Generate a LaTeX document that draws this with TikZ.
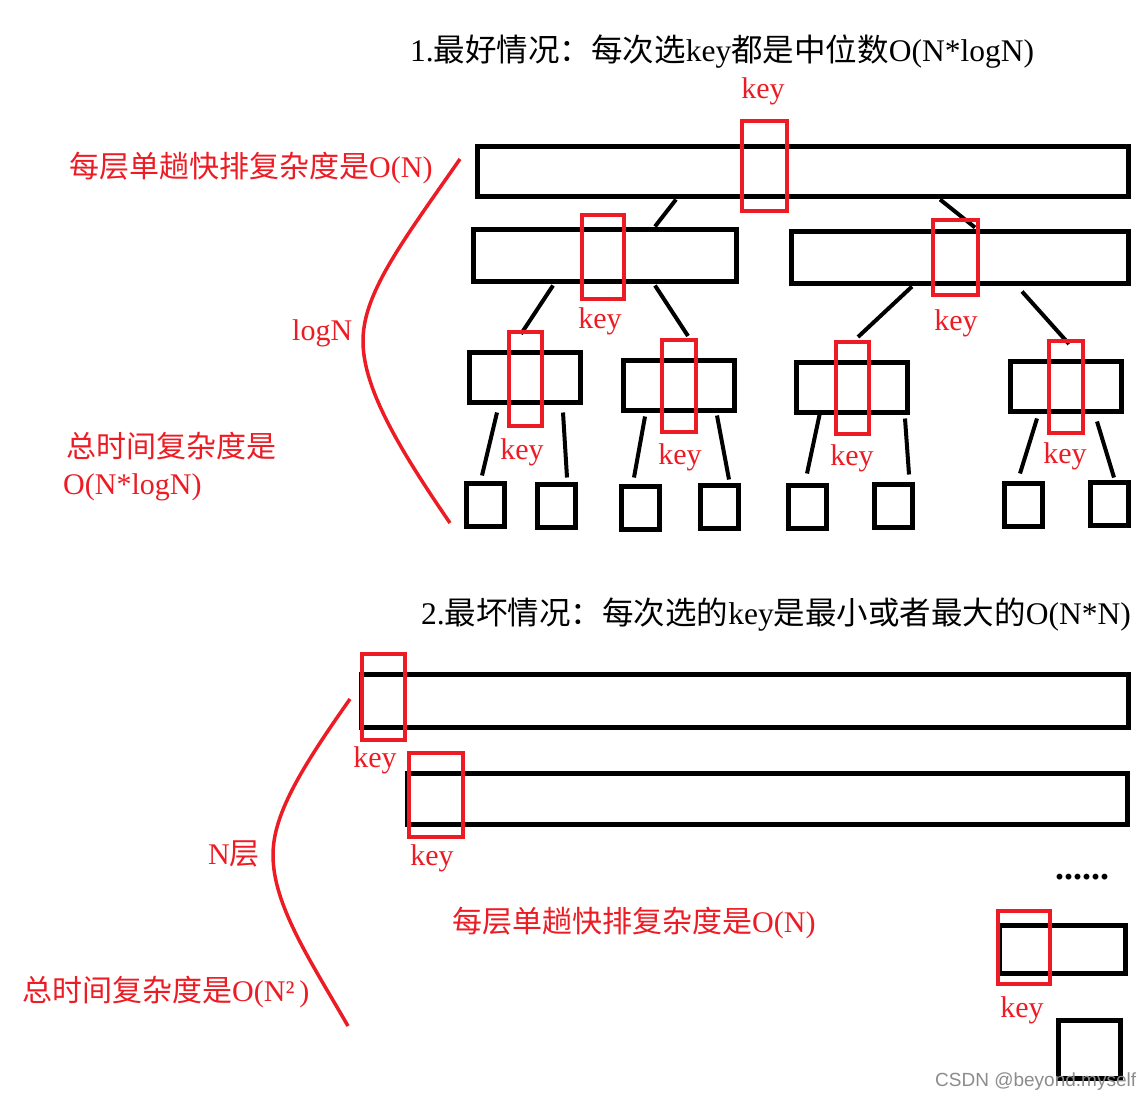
\documentclass[tikz,border=0pt]{standalone}
\usepackage{fontspec}
\setmainfont{Liberation Serif}
\newfontfamily\cjk{Noto Sans CJK SC}
\newfontfamily\wmfont{Liberation Sans}
\definecolor{pred}{RGB}{237,28,36}
\begin{document}
\begin{tikzpicture}[x=1pt,y=-1pt,
  blk/.style 2 args={draw=black,line width=5pt,inner sep=0pt,minimum width=#1,minimum height=#2},
  keyb/.style 2 args={draw=pred,line width=4pt,inner sep=0pt,minimum width=#1,minimum height=#2},
  conn/.style={draw=black,line width=4pt},
  brace/.style={draw=pred,line width=3.5pt},
  lbl/.style={text=pred,font=\fontsize{30}{36}\selectfont,inner sep=0pt},
  ttl/.style={text=black,font=\fontsize{31.5}{38}\selectfont,inner sep=0pt}]
\useasboundingbox[fill=white] (0,0) rectangle (1147,1099);

% ---------- part 1 ----------
\node[ttl,anchor=base west] (t1) at (410,62) {1.{\cjk 最好情况：每次选}key{\cjk 都是中位数}O(N*logN)};

\node[blk={651pt}{50pt}] (r0) at (802.5,172) {};
\node[blk={263pt}{51pt}] (r1L) at (604.5,255.5) {};
\node[blk={337pt}{51pt}] (r1R) at (959.5,257.5) {};
\node[blk={111pt}{50pt}] (a) at (524.5,377) {};
\node[blk={111pt}{50pt}] (b) at (678.5,385) {};
\node[blk={111pt}{50pt}] (c) at (851.5,387) {};
\node[blk={111pt}{50pt}] (d) at (1065.5,386) {};
\node[blk={38pt}{43pt}] (l1) at (485,505) {};
\node[blk={38pt}{43pt}] (l2) at (556,506) {};
\node[blk={38pt}{43pt}] (l3) at (640.5,508) {};
\node[blk={38pt}{43pt}] (l4) at (719,506.5) {};
\node[blk={38pt}{43pt}] (l5) at (807,507) {};
\node[blk={38pt}{43pt}] (l6) at (893,505.5) {};
\node[blk={38pt}{43pt}] (l7) at (1023,505) {};
\node[blk={38pt}{43pt}] (l8) at (1109,503.5) {};

% connectors
\draw[conn] ([xshift=-126.5pt]r0.south) -- ([xshift=50.5pt,yshift=1pt]r1L.north);
\draw[conn] ([xshift=137.5pt]r0.south) -- ([xshift=15.5pt,yshift=2pt]r1R.north);
\draw[conn] ([xshift=-51.5pt,yshift=-2pt]r1L.south) -- ([xshift=-3.5pt,yshift=-1pt]a.north |- 0,333);
\draw[conn] ([xshift=50.5pt,yshift=-2pt]r1L.south) -- ([xshift=9.5pt]b.north |- 0,336);
\draw[conn] ([xshift=-47.5pt,yshift=-1pt]r1R.south) -- ([xshift=6.5pt]c.north |- 0,337);
\draw[conn] ([xshift=62.5pt,yshift=-6pt]r1R.south) -- ([xshift=3.5pt]d.north |- 0,344);
\draw[conn] ([xshift=-27.5pt,yshift=-8pt]a.south) -- ([xshift=-3pt,yshift=5.5pt]l1.north);
\draw[conn] ([xshift=38.5pt,yshift=-8pt]a.south) -- ([xshift=11pt,yshift=4.5pt]l2.north);
\draw[conn] ([xshift=-33.5pt,yshift=-4pt]b.south) -- ([xshift=-6.5pt,yshift=6.5pt]l3.north);
\draw[conn] ([xshift=38.5pt,yshift=-3pt]b.south) -- ([xshift=10pt,yshift=3pt]l4.north);
\draw[conn] ([xshift=-31.5pt,yshift=2pt]c.south) -- ([yshift=9.5pt]l5.north);
\draw[conn] ([xshift=53.5pt,yshift=-4pt]c.south) -- ([xshift=16pt,yshift=7pt]l6.north);
\draw[conn] ([xshift=-28.5pt,yshift=-5pt]d.south) -- ([xshift=-3pt,yshift=7.5pt]l7.north);
\draw[conn] ([xshift=31.5pt,yshift=-8pt]d.south) -- ([xshift=5pt,yshift=2pt]l8.north);

% key boxes
\node[keyb={45pt}{90pt}] (k0) at (764.5,166) {};
\node[keyb={42pt}{84pt}] (k1L) at (603,257) {};
\node[keyb={45pt}{75pt}] (k1R) at (955.5,257.5) {};
\node[keyb={33pt}{94pt}] (ka) at (525.5,379) {};
\node[keyb={34pt}{92pt}] (kb) at (679,386) {};
\node[keyb={33pt}{92pt}] (kc) at (852.5,388) {};
\node[keyb={34pt}{92pt}] (kd) at (1066,387) {};

\node[lbl,anchor=base] (tk0) at (763,99) {key};
\node[lbl,anchor=base] (tk1L) at (600,328) {key};
\node[lbl,anchor=base] (tk1R) at (956,330) {key};
\node[lbl,anchor=base] (tka) at (522,459) {key};
\node[lbl,anchor=base] (tkb) at (680,464) {key};
\node[lbl,anchor=base] (tkc) at (852,465) {key};
\node[lbl,anchor=base] (tkd) at (1065,463) {key};

% left annotations
\node[lbl,anchor=base west] (n1) at (69,178) {{\cjk 每层单趟快排复杂度是}O(N)};
\node[lbl,anchor=base west] (n2) at (292,340) {logN};
\node[lbl,anchor=base west] (n3) at (66,457) {\cjk 总时间复杂度是};
\node[lbl,anchor=base west] (n4) at (63,494) {O(N*logN)};
\draw[brace] (460,159) .. controls (400,245) and (362,295) .. (363,343)
             .. controls (364,390) and (400,450) .. (450,523);

% ---------- part 2 ----------
\node[ttl,anchor=base west] (t2) at (421,624) {2.{\cjk 最坏情况：每次选的}key{\cjk 是最小或者最大的}O(N*N)};

\node[blk={767pt}{53pt}] (s1) at (744.5,700.5) {};
\node[blk={720pt}{51pt}] (s2) at (767,798.5) {};
\node[blk={126pt}{48pt}] (s3) at (1062,949) {};
\node[blk={62pt}{58pt}] (s4) at (1089,1049) {};

\node[keyb={43pt}{86pt}] (ks1) at (383.5,697) {};
\node[keyb={54pt}{84pt}] (ks2) at (436,795) {};
\node[keyb={52pt}{73pt}] (ks3) at (1024,947.5) {};

\node[lbl,anchor=base] (tks1) at (375,767) {key};
\node[lbl,anchor=base] (tks2) at (432,865) {key};
\node[lbl,anchor=base] (tks3) at (1022,1017) {key};

\node[ttl,anchor=base west,font=\fontsize{36}{40}\selectfont\bfseries] (dots) at (1055,879) {......};
\node[lbl,anchor=base west] (m1) at (452,932) {{\cjk 每层单趟快排复杂度是}O(N)};
\node[lbl,anchor=base west] (m2) at (208,864) {N{\cjk 层}};
\node[lbl,anchor=base west] (m3) at (22,1001) {{\cjk 总时间复杂度是}O(N²\,)};
\draw[brace] (350,699) .. controls (300,770) and (273,815) .. (273,855)
             .. controls (273,905) and (310,960) .. (348,1026);

\node[anchor=base west,inner sep=0pt,text=black!45,font=\wmfont\fontsize{19}{22}\selectfont] (wm) at (935,1086) {CSDN @beyond.myself};
\end{tikzpicture}
\end{document}
